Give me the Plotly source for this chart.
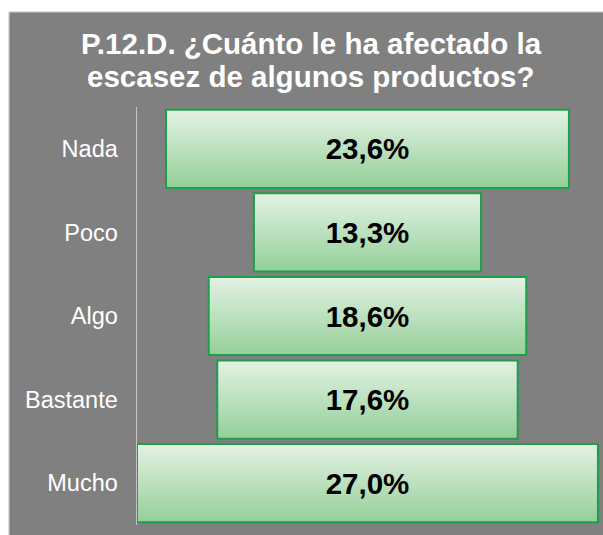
import plotly.graph_objects as go

categories = ["Nada", "Poco", "Algo", "Bastante", "Mucho"]
values = [23.6, 13.3, 18.6, 17.6, 27.0]
title_lines = ["P.12.D. ¿Cuánto le ha afectado la", "escasez de algunos productos?"]

labels = [f"{v:.1f}".replace(".", ",") + "%" for v in values]
bases = [-v / 2 for v in values]

W = 0.935
N = 20
top_rgb = (226, 241, 226)
bot_rgb = (150, 208, 155)

fig = go.Figure()
for k in range(N):
    t = k / (N - 1)
    c = tuple(round(top_rgb[i] + (bot_rgb[i] - top_rgb[i]) * t) for i in range(3))
    fig.add_trace(go.Bar(
        y=categories, x=values, base=bases, orientation="h",
        width=W - k * W / N, offset=-W / 2 + k * W / N,
        marker=dict(color=f"rgb{c}", line=dict(width=0)),
        hoverinfo="skip", showlegend=False,
    ))

fig.add_trace(go.Bar(
    y=categories, x=values, base=bases, orientation="h",
    width=W, offset=-W / 2,
    marker=dict(color="rgba(0,0,0,0)", line=dict(color="#1e9e4c", width=2)),
    text=labels, textposition="inside", insidetextanchor="middle",
    textangle=0,
    textfont=dict(family="Arial, Liberation Sans", size=29.5, color="black", weight="bold"),
    hoverinfo="skip", showlegend=False,
))

L, R, T, B = 137, 3, 107, 10
PW, PH = 603 - L - R, 535 - T - B

def px_x(p):
    return (p - L) / PW

def px_y(p):
    return (535 - B - p) / PH

title_font = dict(family="Arial, Liberation Sans", size=29.5, color="white", weight="bold")
annotations = [
    dict(text=title_lines[0], xref="paper", yref="paper", x=px_x(311), y=px_y(43),
         xanchor="center", yanchor="middle", showarrow=False, font=title_font),
    dict(text=title_lines[1], xref="paper", yref="paper", x=px_x(311), y=px_y(77),
         xanchor="center", yanchor="middle", showarrow=False, font=title_font),
]

fig.update_layout(
    width=603, height=535,
    margin=dict(l=L, r=R, t=T, b=B, pad=0),
    paper_bgcolor="white",
    plot_bgcolor="rgba(0,0,0,0)",
    barmode="overlay",
    annotations=annotations,
    xaxis=dict(range=[-13.5, 13.62], showgrid=False, zeroline=False,
               showticklabels=False, showline=False, fixedrange=True),
    yaxis=dict(range=[4.5, -0.5], showgrid=False, zeroline=False,
               showline=True, linecolor="#c4c4c4", linewidth=1.5,
               ticks="", ticklabelstandoff=13, fixedrange=True,
               tickfont=dict(family="Arial, Liberation Sans", size=23.5, color="white")),
    shapes=[dict(
        type="rect", xref="paper", yref="paper", layer="below",
        x0=px_x(9), x1=px_x(606), y0=px_y(540), y1=px_y(12),
        fillcolor="#808080", line=dict(color="#c8c8c8", width=1.2),
    )],
)

fig.write_html(
    "out.html",
    config={"displayModeBar": False, "staticPlot": True},
    post_script="document.body.style.margin='0';document.body.style.overflow='hidden';",
)
